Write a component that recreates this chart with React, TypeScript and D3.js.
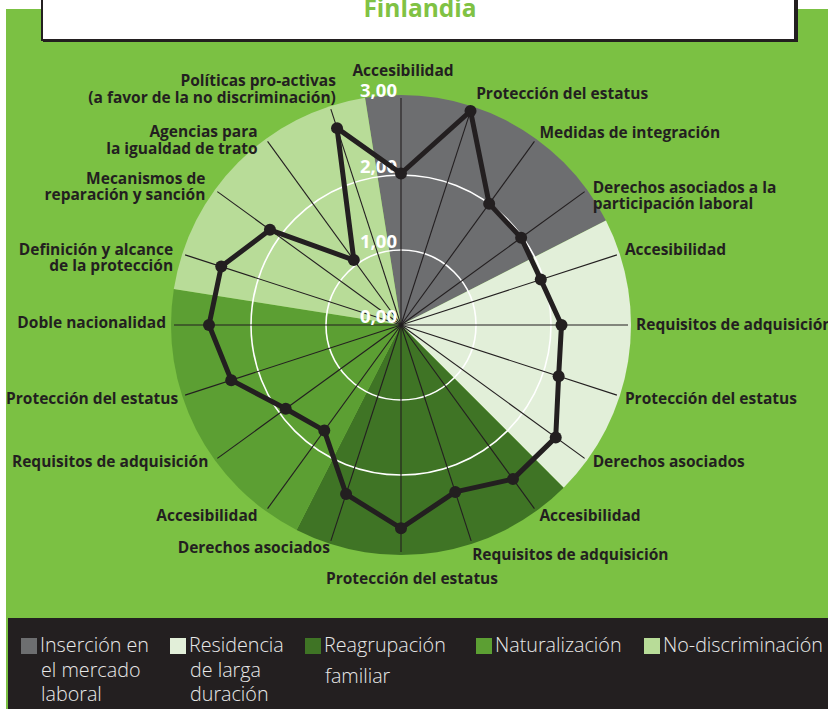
import React from "react";
import * as d3 from "d3";

// ---------------- DATA ----------------
const CATEGORIES: string[] = [
  "Accesibilidad",
  "Protección del estatus",
  "Medidas de integración",
  "Derechos asociados a la\nparticipación laboral",
  "Accesibilidad",
  "Requisitos de adquisición",
  "Protección del estatus",
  "Derechos asociados",
  "Accesibilidad",
  "Requisitos de adquisición",
  "Protección del estatus",
  "Derechos asociados",
  "Accesibilidad",
  "Requisitos de adquisición",
  "Protección del estatus",
  "Doble nacionalidad",
  "Definición y alcance\nde la protección",
  "Mecanismos de\nreparación y sanción",
  "Agencias para\nla igualdad de trato",
  "Políticas pro-activas\n(a favor de la no discriminación)",
];

const CATEGORY_GROUP: number[] = [0, 0, 0, 0, 1, 1, 1, 1, 2, 2, 2, 2, 3, 3, 3, 3, 4, 4, 4, 4];

const VALUES: number[] = [
  2.02, 3.0, 2.0, 1.98, 1.96, 2.14, 2.21, 2.55, 2.54, 2.34, 2.71, 2.37, 1.74, 1.9, 2.38, 2.56,
  2.52, 2.16, 1.07, 2.76,
];

const GROUPS: string[] = [
  "Inserción en\nel mercado\nlaboral",
  "Residencia\nde larga\nduración",
  "Reagrupación\nfamiliar",
  "Naturalización",
  "No-discriminación",
];

const TICKS: number[] = [0, 1, 2, 3];
const TICK_LABELS: string[] = ["0,00", "1,00", "2,00", "3,00"];
const TITLE = "Finlandia";

// ---------------- STYLE / LAYOUT ----------------
const W = 828;
const H = 709;
const CX = 401;
const CY = 325;
const R_MAX = 225; // radius for value 3
const SECTOR_R = 230;
const SPOKE_R = 227;
const GROUP_COLORS = ["#6d6e70", "#e2efd9", "#3f7425", "#5c9f33", "#b8dc98"];
const BG_GREEN = "#7bc143";
const INK = "#231f20";

// label placement: [anchor, dx, dy] relative to spoke end
const LABEL_NUDGE: [string, number, number][] = [
  ["middle", 2, -22],
  ["start", 5, -10],
  ["start", 5, -3],
  ["start", 8, 1],
  ["start", 8, 0],
  ["start", 8, 5],
  ["start", 8, 9],
  ["start", 8, 9],
  ["start", 5, 12],
  ["start", 1, 19],
  ["middle", 11, 32],
  ["end", -1, 12],
  ["end", -10, 12],
  ["end", -9, 9],
  ["end", -7, 9],
  ["end", -8, 3],
  ["end", -12, 0],
  ["end", -12, -8],
  ["end", -10, -4],
  ["end", 5, -23],
];

const LEGEND_X = [21, 170, 305, 476, 644];
const LEGEND_GAP = [24.5, 24.5, 31, 24.5, 24.5];

export default function App() {
  const n = CATEGORIES.length;
  const step = (2 * Math.PI) / n;
  const angle = d3.scaleLinear().domain([0, n]).range([0, 2 * Math.PI]);
  const r = d3.scaleLinear().domain([0, 3]).range([0, R_MAX]);

  const arc = d3.arc<any>();
  const groupIdx = d3.range(GROUPS.length);
  const sectors = groupIdx.map((g) => {
    const idx = CATEGORY_GROUP.map((c, i) => (c === g ? i : -1)).filter((i) => i >= 0);
    const a0 = angle(d3.min(idx)!) - step / 2;
    const a1 = angle(d3.max(idx)!) + step / 2;
    return {
      g,
      d: arc({ innerRadius: 0, outerRadius: SECTOR_R, startAngle: a0, endAngle: a1 }) as string,
    };
  });

  const radial = d3
    .lineRadial<number>()
    .angle((_, i) => angle(i))
    .radius((v) => r(v))
    .curve(d3.curveLinearClosed);

  const px = (a: number, rr: number) => rr * Math.sin(a);
  const py = (a: number, rr: number) => -rr * Math.cos(a);

  const labelFont = "'Open Sans', 'Noto Sans', sans-serif";

  return (
    <svg
      width={W}
      height={H}
      style={{ position: "absolute", left: 0, top: 0, background: "#ffffff" }}
    >
      {/* backgrounds */}
      <rect x={6} y={9} width={W - 6} height={H - 9} fill={BG_GREEN} />
      <rect x={8} y={618} width={W - 8} height={H - 618} fill={INK} />

      {/* title box */}
      <rect x={43} y={-20} width={755} height={62} fill={INK} />
      <rect x={42} y={-20} width={753} height={60} fill="#ffffff" stroke={INK} strokeWidth={2} />
      <text
        x={420}
        y={17}
        textAnchor="middle"
        fontFamily={labelFont}
        fontWeight={700}
        fontSize={24.5}
        fill="#80c244"
      >
        {TITLE}
      </text>

      <g transform={`translate(${CX},${CY})`}>
        {sectors.map((s) => (
          <path key={s.g} d={s.d} fill={GROUP_COLORS[s.g]} />
        ))}
        {TICKS.filter((t) => t > 0 && t < 3).map((t) => (
          <circle key={t} r={r(t)} fill="none" stroke="#ffffff" strokeWidth={1.6} />
        ))}
        {CATEGORIES.map((_, i) => (
          <line
            key={i}
            x1={0}
            y1={0}
            x2={px(angle(i), SPOKE_R)}
            y2={py(angle(i), SPOKE_R)}
            stroke={INK}
            strokeWidth={1.1}
          />
        ))}
        {TICKS.map((t, i) => (
          <text
            key={t}
            x={-4}
            y={t === 3 ? -(SECTOR_R - 2) : -r(t) - 2}
            textAnchor="end"
            fontFamily={labelFont}
            fontWeight={700}
            fontSize={18.5}
            fill="#ffffff"
          >
            {TICK_LABELS[i]}
          </text>
        ))}
        <path d={radial(VALUES) as string} fill="none" stroke={INK} strokeWidth={5} strokeLinejoin="round" />
        {VALUES.map((v, i) => (
          <circle key={i} cx={px(angle(i), r(v))} cy={py(angle(i), r(v))} r={6} fill={INK} />
        ))}
        {CATEGORIES.map((c, i) => {
          const [anchor, dx, dy] = LABEL_NUDGE[i];
          const x = px(angle(i), SPOKE_R) + dx;
          const y = py(angle(i), SPOKE_R) + dy;
          const lines = c.split("\n");
          return (
            <text
              key={i}
              x={x}
              y={y}
              textAnchor={anchor as any}
              fontFamily={labelFont}
              fontWeight={700}
              fontSize={15.5}
              fill={INK}
            >
              {lines.map((l, j) => (
                <tspan key={j} x={x} dy={j === 0 ? 0 : 16.5}>
                  {l}
                </tspan>
              ))}
            </text>
          );
        })}
      </g>

      {/* legend */}
      {GROUPS.map((g, i) => {
        const lines = g.split("\n");
        return (
          <g key={i} transform={`translate(${LEGEND_X[i]},0)`}>
            <rect x={0} y={638} width={16} height={16} fill={GROUP_COLORS[i]} />
            {lines.map((l, j) => (
              <text
                key={j}
                transform={`translate(${j === 0 ? 19 : 20},${652 + j * LEGEND_GAP[i]}) scale(0.94,1)`}
                fontFamily={labelFont}
                fontWeight={300}
                fontSize={21}
                fill="#e8e8e8"
              >
                {l}
              </text>
            ))}
          </g>
        );
      })}
    </svg>
  );
}
